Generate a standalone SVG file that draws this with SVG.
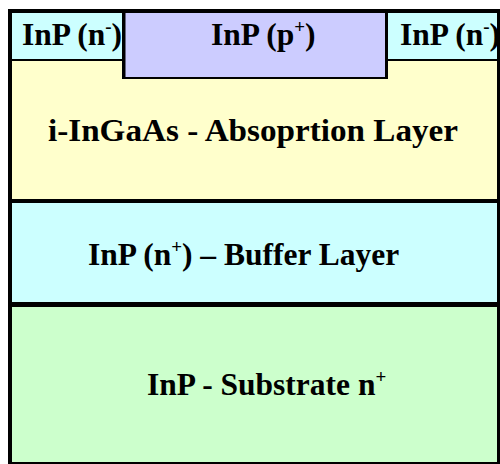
<svg xmlns="http://www.w3.org/2000/svg" width="500" height="464" viewBox="0 0 500 464">
<defs>
<style>
text{font-family:'Liberation Serif','Times New Roman',Times,serif;font-weight:700;font-size:31.5px;fill:#000}
.s{font-size:19px}
.cy{fill:#CCFFFF}.pu{fill:#CCCCFF}.ye{fill:#FFFFCC}.gr{fill:#CCFFCC}
</style>
<clipPath id="cl"><rect x="12" y="13" width="110" height="46"/></clipPath>
<clipPath id="cr"><rect x="388" y="13" width="109" height="46"/></clipPath>
</defs>
<rect x="8" y="9" width="492" height="455" fill="#000"/>
<g id="absorption">
<rect class="ye" x="12" y="61" width="485" height="138"/>
<text x="48" y="141" textLength="410" lengthAdjust="spacingAndGlyphs">i-InGaAs - Absoprtion Layer</text>
</g>
<g id="buffer">
<rect class="cy" x="12" y="203" width="485" height="99"/>
<text x="88" y="265">InP (n<tspan class="s" dy="-12">+</tspan><tspan dy="12">) – Buffer Layer</tspan></text>
</g>
<g id="substrate">
<rect class="gr" x="12" y="307" width="485" height="155"/>
<text x="147" y="395">InP - Substrate n<tspan class="s" dy="-12">+</tspan></text>
</g>
<g id="contact-left">
<rect class="cy" x="12" y="13" width="110" height="46"/>
<text x="22" y="45" clip-path="url(#cl)">InP (n<tspan class="s" dy="-12">-</tspan><tspan dy="12">)</tspan></text>
</g>
<g id="contact-right">
<rect class="cy" x="388" y="13" width="109" height="46"/>
<text x="400" y="45" clip-path="url(#cr)">InP (n<tspan class="s" dy="-12">-</tspan><tspan dy="12">)</tspan></text>
</g>
<g id="contact-p">
<rect x="122" y="13" width="266" height="66" fill="#000"/>
<rect class="pu" x="125.5" y="13" width="259.5" height="64"/>
<text x="211" y="45">InP (p<tspan class="s" dy="-12">+</tspan><tspan dy="12">)</tspan></text>
</g>
</svg>
